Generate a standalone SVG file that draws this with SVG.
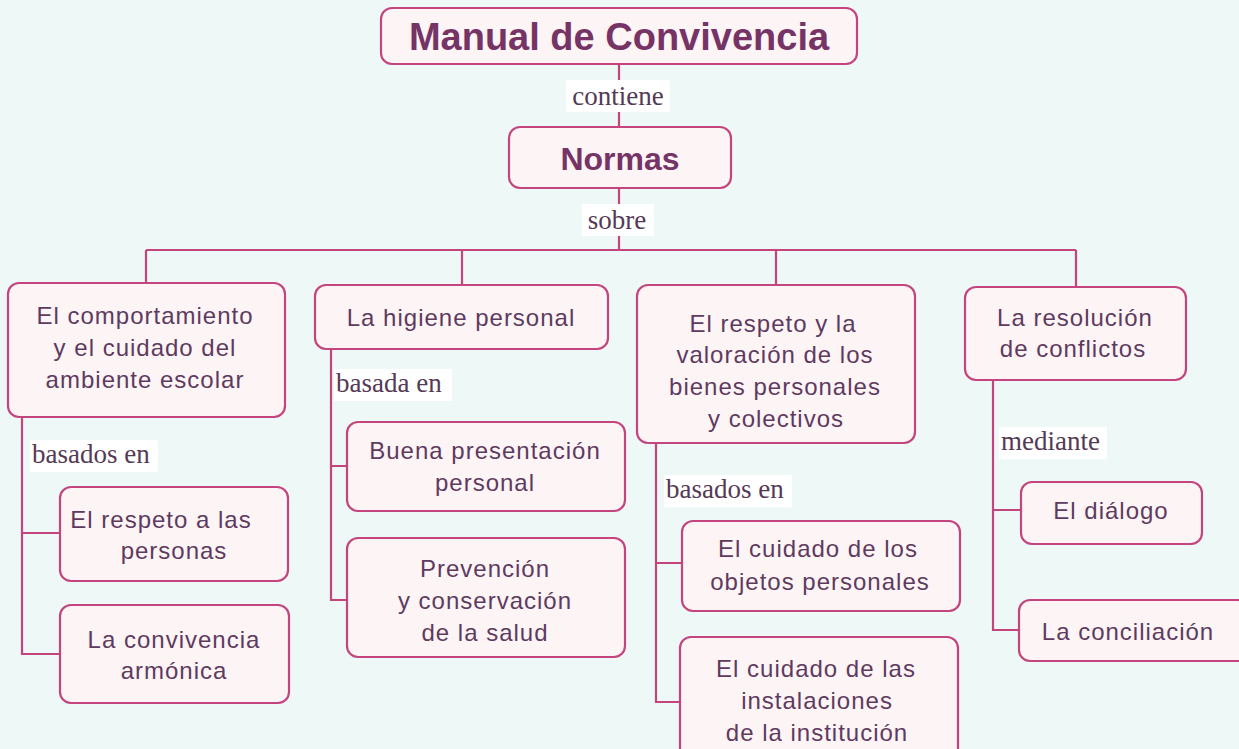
<svg xmlns="http://www.w3.org/2000/svg" width="1239" height="749" viewBox="0 0 1239 749">
<style>
.box{fill:#fdf4f6;stroke:#c4457e;stroke-width:2.2}
.ln{fill:none;stroke:#c4457e;stroke-width:2.2}
.t{font-family:"Liberation Sans",Arial,sans-serif;font-size:24px;letter-spacing:1px;fill:#5e3b5e;text-anchor:middle}
.b{font-family:"Liberation Sans",Arial,sans-serif;font-weight:bold;fill:#763466;text-anchor:middle}
.s{font-family:"Liberation Serif","Times New Roman",serif;font-size:27px;fill:#553a55}
.bg{fill:#ffffff}
</style>
<rect width="1239" height="749" fill="#eef8f6"/>
<g id="connectors">
<path class="ln" d="M619 64V128M619 188V250M146 250H1076M146 250V283M462 250V285M776 250V285M1076 250V287"/>
<path class="ln" d="M22 417V654H60M22 533H60"/>
<path class="ln" d="M331 349V600H347M331 466H347"/>
<path class="ln" d="M656 443V702H680M656 563H682"/>
<path class="ln" d="M993 380V630H1019M993 510H1021"/>
<rect class="bg" x="566" y="80" width="104" height="32"/>
<text class="s" x="618" y="105" text-anchor="middle">contiene</text>
<rect class="bg" x="582" y="204" width="72" height="32"/>
<text class="s" x="617" y="229" text-anchor="middle">sobre</text>
<rect class="bg" x="30" y="440" width="128" height="32"/>
<text class="s" x="32" y="463">basados en</text>
<rect class="bg" x="334" y="369" width="118" height="32"/>
<text class="s" x="336" y="392">basada en</text>
<rect class="bg" x="664" y="475" width="128" height="32"/>
<text class="s" x="666" y="498">basados en</text>
<rect class="bg" x="999" y="427" width="108" height="32"/>
<text class="s" x="1001" y="450">mediante</text>
</g>
<g id="n-manual">
<rect class="box" x="381" y="8" width="476" height="56" rx="11"/>
<text class="b" x="619" y="50" font-size="38">Manual de Convivencia</text>
</g>
<g id="n-normas">
<rect class="box" x="509" y="127" width="222" height="61" rx="11"/>
<text class="b" x="620" y="170" font-size="32">Normas</text>
</g>
<g id="n-comportamiento">
<rect class="box" x="8" y="283" width="277" height="134" rx="11"/>
<text class="t" x="145" y="324">El comportamiento</text>
<text class="t" x="145" y="356">y el cuidado del</text>
<text class="t" x="145" y="388">ambiente escolar</text>
</g>
<g id="n-higiene">
<rect class="box" x="315" y="285" width="293" height="64" rx="11"/>
<text class="t" x="461" y="326">La higiene personal</text>
</g>
<g id="n-respeto-bienes">
<rect class="box" x="637" y="285" width="278" height="158" rx="11"/>
<text class="t" x="773" y="332">El respeto y la</text>
<text class="t" x="775" y="363">valoración de los</text>
<text class="t" x="775" y="395">bienes personales</text>
<text class="t" x="776" y="427">y colectivos</text>
</g>
<g id="n-resolucion">
<rect class="box" x="965" y="287" width="221" height="93" rx="11"/>
<text class="t" x="1075" y="326">La resolución</text>
<text class="t" x="1073" y="357">de conflictos</text>
</g>
<g id="n-respeto-personas">
<rect class="box" x="60" y="487" width="228" height="94" rx="11"/>
<text class="t" x="161" y="528">El respeto a las</text>
<text class="t" x="174" y="559">personas</text>
</g>
<g id="n-convivencia">
<rect class="box" x="60" y="605" width="229" height="98" rx="11"/>
<text class="t" x="174" y="648">La convivencia</text>
<text class="t" x="174" y="679">armónica</text>
</g>
<g id="n-presentacion">
<rect class="box" x="347" y="422" width="278" height="89" rx="11"/>
<text class="t" x="485" y="459">Buena presentación</text>
<text class="t" x="485" y="491">personal</text>
</g>
<g id="n-prevencion">
<rect class="box" x="347" y="538" width="278" height="119" rx="11"/>
<text class="t" x="485" y="577">Prevención</text>
<text class="t" x="485" y="609">y conservación</text>
<text class="t" x="485" y="641">de la salud</text>
</g>
<g id="n-objetos">
<rect class="box" x="682" y="521" width="278" height="90" rx="11"/>
<text class="t" x="818" y="557">El cuidado de los</text>
<text class="t" x="820" y="590">objetos personales</text>
</g>
<g id="n-instalaciones">
<rect class="box" x="680" y="637" width="278" height="125" rx="11"/>
<text class="t" x="816" y="677">El cuidado de las</text>
<text class="t" x="817" y="709">instalaciones</text>
<text class="t" x="817" y="741">de la institución</text>
</g>
<g id="n-dialogo">
<rect class="box" x="1021" y="482" width="181" height="62" rx="11"/>
<text class="t" x="1111" y="519">El diálogo</text>
</g>
<g id="n-conciliacion">
<rect class="box" x="1019" y="600" width="230" height="61" rx="11"/>
<text class="t" x="1128" y="640">La conciliación</text>
</g>
</svg>
